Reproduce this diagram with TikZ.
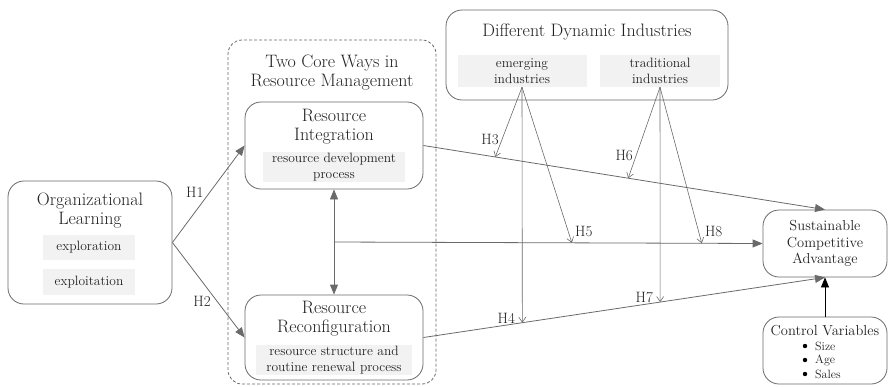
\documentclass[tikz,border=0pt]{standalone}
\usepackage{xcolor}
\usepackage{tikz}
\usetikzlibrary{calc}
\usetikzlibrary{arrows.meta}
\definecolor{linegray}{HTML}{6A6A6A}
\definecolor{txtgray}{HTML}{222222}
\definecolor{subgray}{HTML}{F2F2F2}
\tikzset{
  bigbox/.style={draw=linegray, rounded corners=16pt, fill=white, line width=0.8pt},
  subbox/.style={fill=subgray, inner sep=0pt, align=center, font=\fontsize{13.5}{16}\selectfont},
  titletxt/.style={align=center, inner sep=0pt, font=\fontsize{18}{19}\selectfont},
  hlabel/.style={inner sep=1pt, font=\fontsize{15}{16}\selectfont},
  mainarrow/.style={draw=linegray, line width=0.8pt, -{Triangle[length=10pt,width=8pt]}},
  modarrow/.style={draw=linegray, line width=0.6pt, -{Straight Barb[length=5pt,width=7pt]}}
}

\begin{document}
\begin{tikzpicture}[x=1pt, y=-1pt, text=txtgray]
\useasboundingbox (0,0) rectangle (890,386);
\node[bigbox, fill=none, dashed, dash pattern=on 3pt off 2pt, rounded corners=14pt, minimum width=208pt, minimum height=344pt] (core) at (332,212) {};
\node[titletxt] (coretitle) at (332,72.5) {Two Core Ways in\\Resource Management};
\node[bigbox, minimum width=164pt, minimum height=123pt] (org) at (90,242.5) {};
\node[titletxt] (orgtitle) at (90,210.5) {Organizational\\Learning};
\node[subbox, minimum width=92pt, minimum height=25pt] (explor) at (89,247.5) {exploration};
\node[subbox, minimum width=92pt, minimum height=26pt] (exploit) at (89,282) {exploitation};
\node[bigbox, minimum width=178pt, minimum height=87pt] (intg) at (334,145.5) {};
\node[titletxt] (intgtitle) at (334,126.5) {Resource\\Integration};
\node[subbox, minimum width=142pt, minimum height=30pt] (intgsub) at (334,167) {resource development\\process};
\node[bigbox, minimum width=178pt, minimum height=85pt] (reconf) at (334,337.5) {};
\node[titletxt] (reconftitle) at (334,319) {Resource\\Reconfiguration};
\node[subbox, minimum width=156pt, minimum height=30pt] (reconfsub) at (334,360) {resource structure and\\routine renewal process};
\node[bigbox, minimum width=282pt, minimum height=90pt] (ddi) at (587,55) {};
\node[titletxt] (ddititle) at (587,32) {Different Dynamic Industries};
\node[subbox, minimum width=129pt, minimum height=32pt] (emerging) at (522,71) {emerging\\industries};
\node[subbox, minimum width=120pt, minimum height=32pt] (traditional) at (660,71) {traditional\\industries};
\node[bigbox, align=center, font=\fontsize{14.5}{16.5}\selectfont, minimum width=124pt, minimum height=67pt] (sca) at (825,243.5) {Sustainable\\Competitive\\Advantage};
\node[bigbox, minimum width=124pt, minimum height=67pt] (ctrl) at (825,350.5) {};
\node[inner sep=0pt, font=\fontsize{14.5}{16}\selectfont] (ctrltitle) at (825,331) {Control Variables};
\foreach \v [count=\i] in {Size,Age,Sales} {
  \fill[black] (805,332+14*\i) circle (2.2pt);
  \node[anchor=west, inner sep=0pt, font=\fontsize{12}{13}\selectfont] (cv\i) at (815,332+14*\i) {\v};
}
\coordinate (mid) at ($(intg.south)!.5!(reconf.north)$);
\draw[mainarrow] (org.east) -- (intg.west) node[hlabel, pos=.45, above left] (h1) {H1};
\draw[mainarrow] (org.east) -- (reconf.west) node[hlabel, pos=.55, below left] (h2) {H2};
\draw[mainarrow, {Triangle[length=10pt,width=8pt]}-{Triangle[length=10pt,width=8pt]}] (intg.south) -- (reconf.north);
\draw[mainarrow] (mid) -- (sca.west);
\draw[mainarrow] (intg.east) -- (sca.north);
\draw[mainarrow] (reconf.east) -- (sca.south);
\draw[mainarrow, draw=black] (ctrl.north) -- (sca.south);
\coordinate (t3) at ($(intg.east)!.179!(sca.north)$);
\coordinate (t6) at ($(intg.east)!.51!(sca.north)$);
\coordinate (t4) at ($(reconf.east)!.2463!(sca.south)$);
\coordinate (t7) at ($(reconf.east)!.5896!(sca.south)$);
\coordinate (t5) at ($(mid)!.555!(sca.west)$);
\coordinate (t8) at ($(mid)!.858!(sca.west)$);
\foreach \src/\a/\b/\c in {emerging/3/4/5, traditional/6/7/8} {
  \draw[modarrow] (\src.south) -- (t\a) node[hlabel, pos=.75, left=2pt] (h\a) {H\a};
  \draw[modarrow] (\src.south) -- (t\b) node[hlabel, pos=1, anchor=south east, xshift=-6pt, yshift=-2pt] (h\b) {H\b};
  \draw[modarrow] (\src.south) -- (t\c) node[hlabel, pos=1, anchor=south west, xshift=2pt, yshift=5pt] (h\c) {H\c};
}
\end{tikzpicture}
\end{document}
